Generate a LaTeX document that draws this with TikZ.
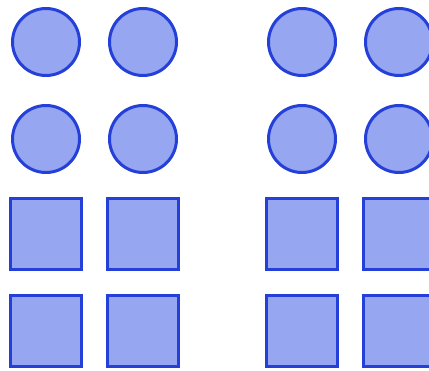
\documentclass[tikz,border=0pt]{standalone}
\usepackage{tikz}
\usetikzlibrary{positioning}
\usepackage{xcolor}
\definecolor{shapefill}{RGB}{150,166,240}
\definecolor{shapeedge}{RGB}{36,64,216}

\begin{document}
\begin{tikzpicture}[x=1pt, y=-1pt,
    dot/.style={circle, draw=shapeedge, line width=3pt, fill=shapefill,
                minimum size=67pt, inner sep=0pt},
    tile/.style={rectangle, draw=shapeedge, line width=3pt, fill=shapefill,
                 minimum size=71pt, inner sep=0pt}]
\useasboundingbox (0,0) rectangle (429,371);
% top two rows: circles
\foreach \x/\c in {46/a,143/b,302/c,399/d} {
    \node[dot] (c1\c) at (\x,42) {};
    \node[dot] (c2\c) at (\x,139) {};
}
% bottom two rows: squares
\foreach \x/\c in {45.5/a,142.5/b,301.5/c,398.5/d} {
    \node[tile] (s1\c) at (\x,234) {};
    \node[tile] (s2\c) at (\x,331) {};
}
\end{tikzpicture}
\end{document}
